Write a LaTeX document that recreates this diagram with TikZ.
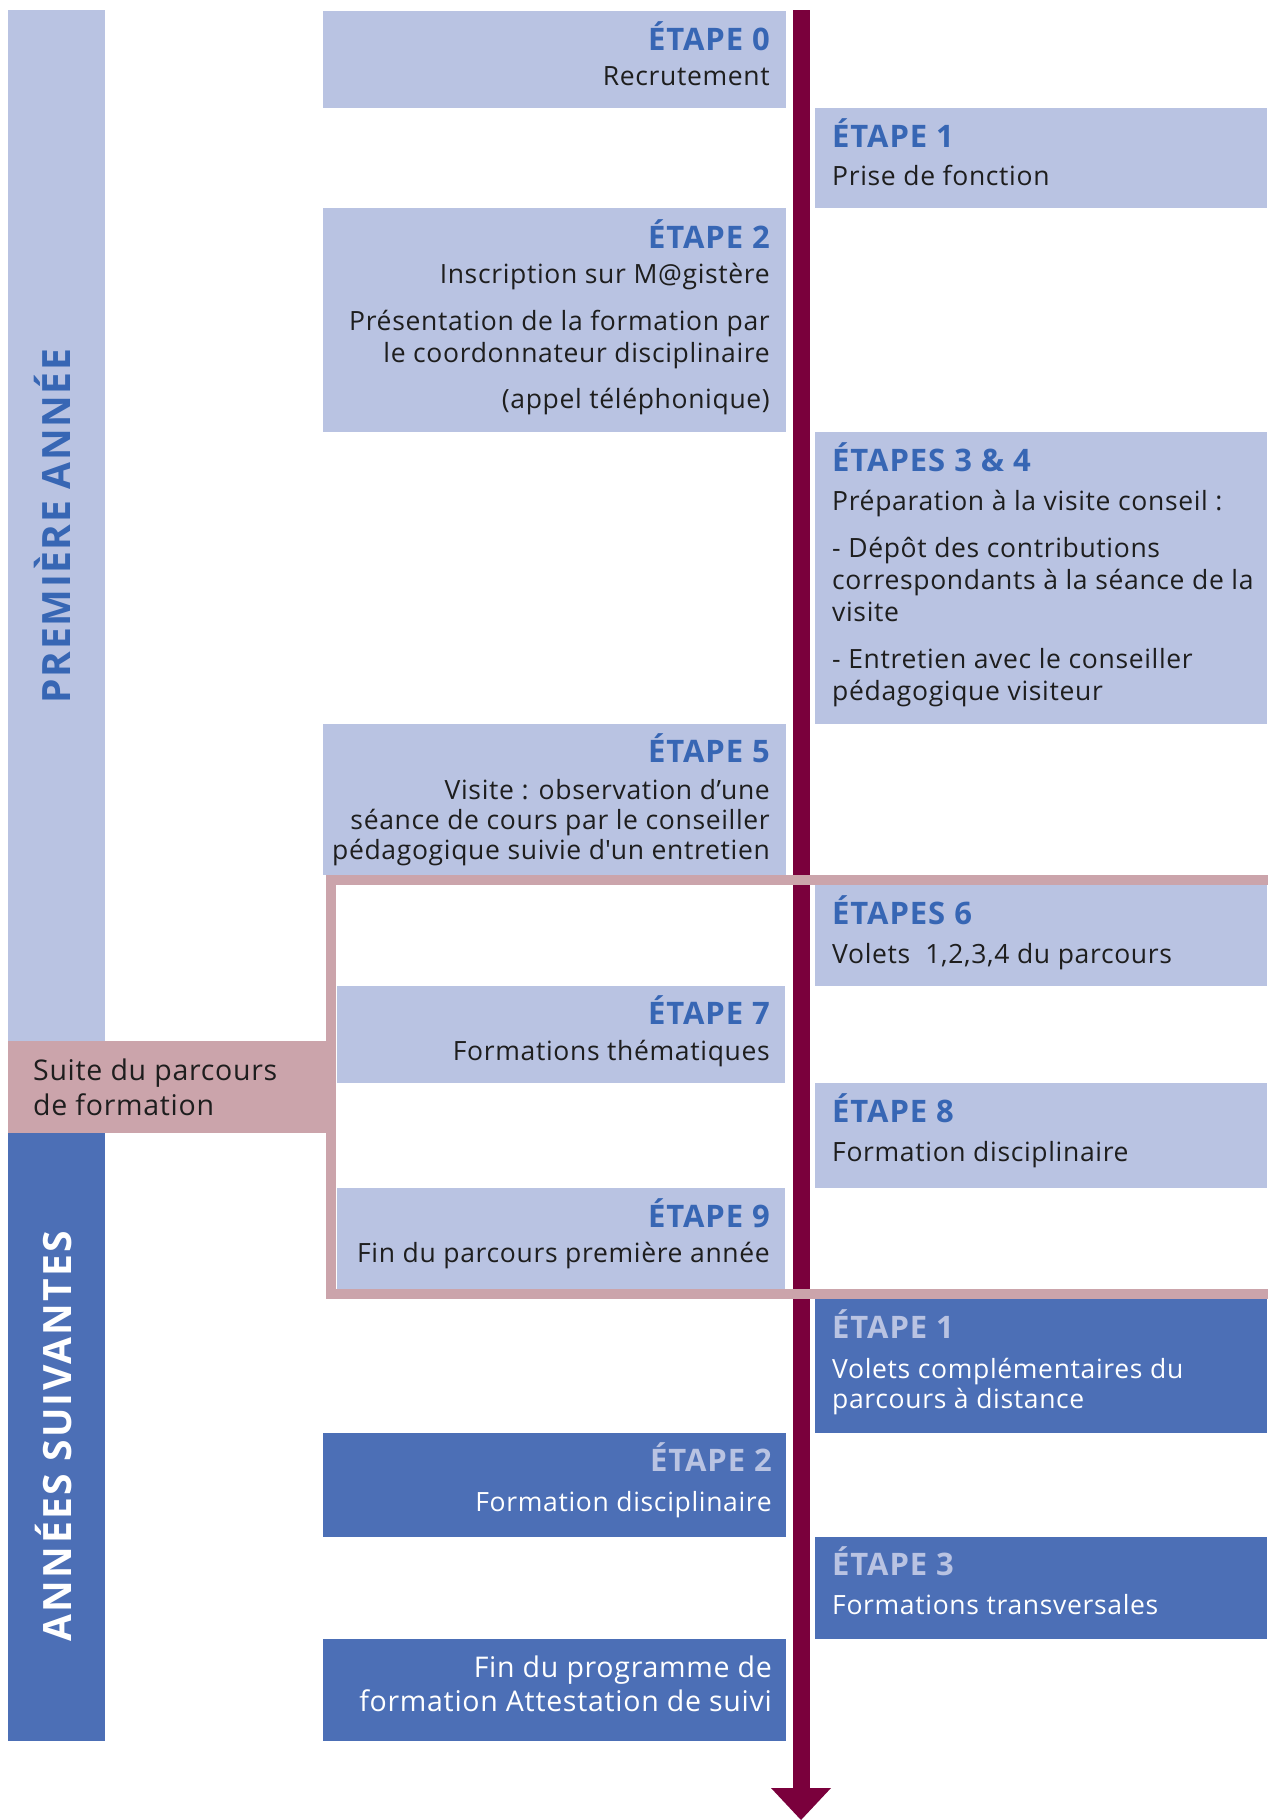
\documentclass[tikz,border=0pt]{standalone}
\usepackage{fontspec}
\setmainfont{Open Sans}
\usetikzlibrary{arrows.meta, positioning}
\definecolor{bleuclair}{HTML}{B9C3E2}
\definecolor{bleufonce}{HTML}{4C6FB6}
\definecolor{bleutitre}{HTML}{3766B4}
\definecolor{rose}{HTML}{CBA4AB}
\definecolor{bordeaux}{HTML}{7A003C}
\definecolor{texte}{HTML}{1E1E1E}

\tikzset{
    boxG/.style={rectangle, inner sep=0pt, anchor=north west, minimum width=463pt},
    boxD/.style={rectangle, inner sep=0pt, anchor=north west, minimum width=452pt},
    clair/.style={fill=bleuclair},
    fonce/.style={fill=bleufonce},
    titre/.style={font=\fontsize{31}{36}\selectfont\bfseries\addfontfeature{LetterSpace=3}, text=bleutitre, inner sep=0pt},
    corps/.style={font=\fontsize{26.5}{32}\selectfont\addfontfeature{LetterSpace=2.5}, text=texte, inner sep=0pt},
    gauche/.style={anchor=base east, align=right},
    droite/.style={anchor=base west, align=left},
    axe/.style={draw=bordeaux, line width=17pt, -{Triangle[width=60pt, length=32pt, line width=0pt]}},
    cadre/.style={draw=rose, line width=10pt},
    bandeau/.style={font=\fontsize{39}{44}\selectfont\bfseries\addfontfeature{LetterSpace=4}, rotate=90, anchor=base, inner sep=0pt}
}

\begin{document}
\begin{tikzpicture}[x=1pt, y=-1pt]
    \useasboundingbox (0,0) rectangle (1267,1820);

    % Bandeaux gauche
    \node[boxG, clair, minimum width=97pt, minimum height=1031pt] (premiere) at (8,10) {};
    \node[boxG, fonce, minimum width=97pt, minimum height=608pt] (suivantes) at (8,1133) {};
    \node[bandeau, text=bleutitre] (lblpremiere) at (70,526) {PREMIÈRE ANNÉE};
    \node[bandeau, text=white, font=\fontsize{39}{44}\selectfont\bfseries\addfontfeature{LetterSpace=6}] (lblsuivantes) at (71,1436) {ANNÉES SUIVANTES};

    % Axe du temps
    \coordinate (haut) at (801,10);
    \coordinate (bas) at (801,1820);
    \draw[axe] (haut) -- (bas);

    % Premiere annee
    \node[boxG, clair, minimum height=97pt] (e0) at (323,11) {};
    \node[boxD, clair, minimum height=100pt] (e1) at (815,108) {};
    \node[boxG, clair, minimum height=224pt] (e2) at (323,208) {};
    \node[boxD, clair, minimum height=292pt] (e34) at (815,432) {};
    \node[boxG, clair, minimum height=151pt] (e5) at (323,724) {};
    \node[boxD, clair, minimum height=101pt] (e6) at (815,885) {};
    \node[boxG, clair, minimum width=448pt, minimum height=97pt] (e7) at (337,986) {};
    \node[boxD, clair, minimum height=105pt] (e8) at (815,1083) {};
    \node[boxG, clair, minimum width=448pt, minimum height=101pt] (e9) at (337,1188) {};

    % Annees suivantes
    \node[boxD, fonce, minimum height=134pt] (f1) at (815,1299) {};
    \node[boxG, fonce, minimum height=104pt] (f2) at (323,1433) {};
    \node[boxD, fonce, minimum height=102pt] (f3) at (815,1537) {};
    \node[boxG, fonce, minimum height=102pt] (ffin) at (323,1639) {};

    % Suite du parcours
    \draw[cadre] (331,880) rectangle (1290,1294);
    \node[boxG, fill=rose, minimum width=323pt, minimum height=92pt] (suite) at (8,1041) {};
    \node[corps, droite, font=\fontsize{28.5}{32}\selectfont\addfontfeature{LetterSpace=2.5}] (txtsuite) at (33,1115) {Suite du parcours\\[3pt]de formation};

    % Textes premiere annee (ancre sur la derniere ligne)
    \node[titre, gauche] (t0) at (770,50) {ÉTAPE 0};
    \node[corps, gauche] (c0) at (770,85) {Recrutement};
    \node[titre, droite] (t1) at (832,147) {ÉTAPE 1};
    \node[corps, droite] (c1) at (832,185) {Prise de fonction};
    \node[titre, gauche] (t2) at (770,248) {ÉTAPE 2};
    \node[corps, gauche] (c2) at (770,408) {Inscription sur M@gistère\\[15pt]Présentation de la formation par\\le coordonnateur disciplinaire\\[14pt](appel téléphonique)};
    \node[titre, droite] (t34) at (832,471) {ÉTAPES 3 \& 4};
    \node[corps, droite] (c34) at (832,700) {Préparation à la visite conseil :\\[15pt]- Dépôt des contributions\\correspondants à la séance de la\\visite\\[15pt]- Entretien avec le conseiller\\pédagogique visiteur};
    \node[titre, gauche] (t5) at (770,762) {ÉTAPE 5};
    \node[corps, gauche] (c5) at (770,859) {Visite : observation d’une\\[-2pt]séance de cours par le conseiller\\[-2pt]pédagogique suivie d\textquotesingle un entretien};
    \node[titre, droite] (t6) at (832,924) {ÉTAPES 6};
    \node[corps, droite] (c6) at (832,963) {Volets\ \ 1,2,3,4 du parcours};
    \node[titre, gauche] (t7) at (770,1024) {ÉTAPE 7};
    \node[corps, gauche] (c7) at (770,1060) {Formations thématiques};
    \node[titre, droite] (t8) at (832,1122) {ÉTAPE 8};
    \node[corps, droite] (c8) at (832,1161) {Formation disciplinaire};
    \node[titre, gauche] (t9) at (770,1227) {ÉTAPE 9};
    \node[corps, gauche] (c9) at (770,1262) {Fin du parcours première année};

    % Textes annees suivantes
    \node[titre, droite, text=bleuclair] (tf1) at (832,1338) {ÉTAPE 1};
    \node[corps, droite, text=white] (cf1) at (832,1408) {Volets complémentaires du\\[-2pt]parcours à distance};
    \node[titre, gauche, text=bleuclair] (tf2) at (772,1471) {ÉTAPE 2};
    \node[corps, gauche, text=white] (cf2) at (772,1511) {Formation disciplinaire};
    \node[titre, droite, text=bleuclair] (tf3) at (832,1575) {ÉTAPE 3};
    \node[corps, droite, text=white] (cf3) at (832,1614) {Formations transversales};
    \node[corps, gauche, text=white, font=\fontsize{28.5}{32}\selectfont\addfontfeature{LetterSpace=2.5}] (cfin) at (772,1711) {Fin du programme de\\[2pt]formation Attestation de suivi};
\end{tikzpicture}
\end{document}
